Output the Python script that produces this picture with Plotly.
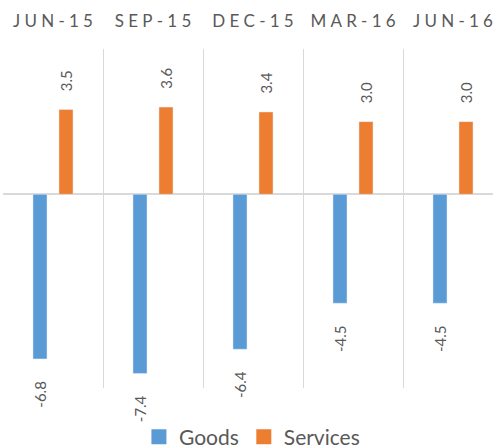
import plotly.graph_objects as go

categories = ["JUN-15", "SEP-15", "DEC-15", "MAR-16", "JUN-16"]
goods = [-6.8, -7.4, -6.4, -4.5, -4.5]
services = [3.5, 3.6, 3.4, 3.0, 3.0]

BLUE = "#5B9BD5"
ORANGE = "#ED7D31"
GRAY = "#595959"
FONT = "Lato"
NB = "\u00a0"
GAP = "\u2005"

def spaced(s):
    return GAP.join(list(s))

cat_labels = [spaced(c) for c in categories]

fig = go.Figure()
fig.add_trace(go.Bar(
    x=cat_labels, y=goods, name="Goods", marker_color=BLUE, showlegend=False,
    text=[f"{v:.1f}" + NB * 5 for v in goods], textposition="outside",
    textangle=-90, textfont=dict(family=FONT, size=15, color=GRAY),
    cliponaxis=False, constraintext="none",
))
fig.add_trace(go.Bar(
    x=cat_labels, y=services, name="Services", marker_color=ORANGE, showlegend=False,
    text=[NB * 4 + f"{v:.1f}" for v in services], textposition="outside",
    textangle=-90, textfont=dict(family=FONT, size=15, color=GRAY),
    cliponaxis=False, constraintext="none",
))
for name, col in [("Goods", BLUE), ("Services", ORANGE)]:
    fig.add_trace(go.Scatter(
        x=[None], y=[None], mode="markers", name=name,
        marker=dict(symbol="square", size=15, color=col),
    ))

fig.update_layout(
    width=493, height=448,
    margin=dict(l=3, r=0, t=49, b=60, autoexpand=False),
    paper_bgcolor="white", plot_bgcolor="white",
    barmode="group", bargap=0.48, bargroupgap=0.46,
    font=dict(family=FONT, color=GRAY),
    legend=dict(orientation="h", x=0.508, xanchor="center", y=-0.145, yanchor="middle",
                bgcolor="rgba(0,0,0,0)",
                font=dict(family=FONT, size=21, color=GRAY), itemwidth=30,
                traceorder="normal"),
    xaxis=dict(
        type="category", side="top", range=[-0.5, 4.4], automargin=False,
        tickson="boundaries", showgrid=True, gridcolor="#d9d9d9", gridwidth=1.3,
        ticks="", ticklabelstandoff=18, showline=False, zeroline=False,
        tickfont=dict(family=FONT, size=17, color=GRAY),
    ),
    yaxis=dict(
        range=[-8, 6], showgrid=False, showticklabels=False, ticks="", automargin=False,
        zeroline=True, zerolinecolor="#d9d9d9", zerolinewidth=1.5, showline=False,
    ),
)

fig.write_html("out.html", config={"displayModeBar": False},
               post_script="document.body.style.margin='0px';document.body.style.overflow='hidden';")
